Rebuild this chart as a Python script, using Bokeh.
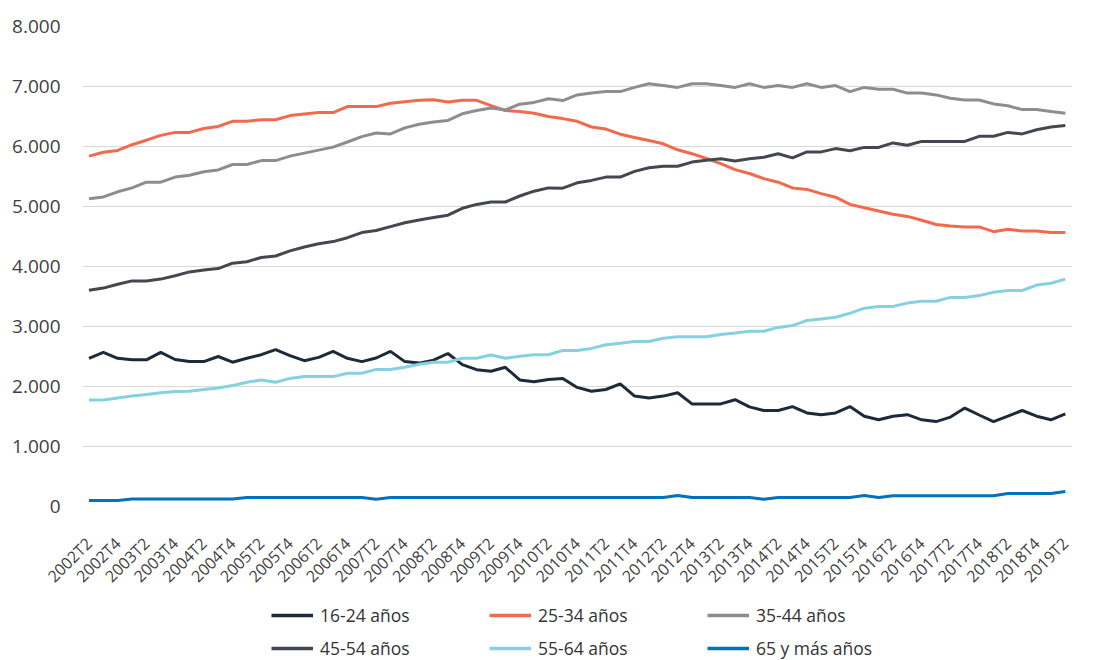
import math
from bokeh.plotting import figure
from bokeh.layouts import column
from bokeh.models import FixedTicker, Legend, LegendItem, Range1d
from bokeh.embed import file_html
from bokeh.resources import INLINE

# Quarters 2002T2 .. 2019T2
quarters = [f"{y}T{q}" for y in range(2002, 2020) for q in range(1, 5)][1:-2]

age_groups = ["16-24 años", "25-34 años", "35-44 años", "45-54 años", "55-64 años", "65 y más años"]

s16_24 = [2470, 2570, 2470, 2445, 2445, 2570, 2450, 2415, 2415, 2500,
          2405, 2470, 2530, 2615, 2515, 2430, 2485, 2585, 2470, 2415,
          2475, 2585, 2415, 2390, 2440, 2550, 2365, 2280, 2255, 2320,
          2110, 2080, 2115, 2135, 1985, 1920, 1950, 2045, 1840, 1810,
          1840, 1895, 1710, 1710, 1710, 1780, 1660, 1600, 1600, 1665,
          1560, 1530, 1560, 1665, 1505, 1445, 1505, 1530, 1445, 1415,
          1490, 1640, 1525, 1415, 1505, 1600, 1505, 1445, 1545]

s25_34 = [5840, 5905, 5935, 6030, 6105, 6185, 6235, 6235, 6300, 6335,
          6420, 6420, 6445, 6445, 6515, 6540, 6565, 6565, 6665, 6665,
          6665, 6720, 6745, 6770, 6780, 6740, 6770, 6770, 6680, 6600,
          6585, 6555, 6500, 6465, 6420, 6325, 6290, 6205, 6150, 6100,
          6045, 5945, 5880, 5800, 5715, 5615, 5550, 5465, 5405, 5310,
          5285, 5215, 5155, 5035, 4980, 4925, 4870, 4835, 4770, 4700,
          4675, 4660, 4660, 4580, 4620, 4590, 4590, 4565, 4565]

s35_44 = [5130, 5160, 5245, 5310, 5405, 5405, 5490, 5520, 5580, 5610,
          5700, 5700, 5765, 5765, 5840, 5890, 5940, 5990, 6075, 6165,
          6225, 6210, 6310, 6370, 6410, 6435, 6545, 6600, 6640, 6610,
          6705, 6735, 6795, 6765, 6860, 6890, 6915, 6915, 6985, 7045,
          7015, 6985, 7045, 7045, 7015, 6985, 7045, 6985, 7015, 6985,
          7045, 6985, 7015, 6915, 6985, 6955, 6955, 6890, 6890, 6860,
          6805, 6775, 6775, 6710, 6680, 6615, 6615, 6585, 6555]

s45_54 = [3605, 3640, 3705, 3760, 3760, 3790, 3845, 3910, 3940, 3965,
          4055, 4080, 4150, 4175, 4260, 4325, 4380, 4415, 4480, 4565,
          4600, 4665, 4730, 4775, 4815, 4855, 4970, 5035, 5075, 5075,
          5175, 5255, 5310, 5305, 5395, 5435, 5490, 5490, 5585, 5645,
          5670, 5670, 5740, 5770, 5795, 5760, 5795, 5820, 5880, 5810,
          5910, 5910, 5965, 5930, 5985, 5985, 6060, 6020, 6085, 6085,
          6085, 6085, 6170, 6170, 6235, 6210, 6280, 6325, 6350]

s55_64 = [1775, 1775, 1810, 1840, 1865, 1895, 1915, 1920, 1950, 1975,
          2015, 2070, 2110, 2070, 2135, 2165, 2165, 2165, 2220, 2220,
          2285, 2285, 2320, 2370, 2405, 2405, 2470, 2470, 2525, 2470,
          2505, 2530, 2530, 2600, 2600, 2635, 2695, 2720, 2750, 2750,
          2805, 2830, 2830, 2830, 2865, 2890, 2920, 2920, 2985, 3015,
          3100, 3125, 3155, 3220, 3305, 3335, 3335, 3390, 3420, 3420,
          3485, 3485, 3515, 3570, 3600, 3600, 3690, 3720, 3790]

s65 = [100, 100, 100, 125, 125, 125, 125, 125, 125, 125,
       125, 150, 150, 150, 150, 150, 150, 150, 150, 150,
       120, 150, 150, 150, 150, 150, 150, 150, 150, 150,
       150, 150, 150, 150, 150, 150, 150, 150, 150, 150,
       150, 185, 150, 150, 150, 150, 150, 120, 150, 150,
       150, 150, 150, 150, 185, 150, 180, 180, 180, 180,
       180, 180, 180, 180, 215, 215, 215, 215, 250]

y_ticks = [0, 1000, 2000, 3000, 4000, 5000, 6000, 7000, 8000]
y_tick_labels = ["0", "1.000", "2.000", "3.000", "4.000", "5.000", "6.000", "7.000", "8.000"]

series = [s16_24, s25_34, s35_44, s45_54, s55_64, s65]
colors = ["#1c2a39", "#f26a4b", "#8b8d90", "#43474f", "#86d1e1", "#0072bc"]

FONT = "Open Sans"
TXT = "#3f3f3f"

x = list(range(len(quarters)))

# ---------------- main chart ----------------
p = figure(width=1090, height=598,
           x_range=Range1d(-0.45, 68.5), y_range=Range1d(0, 8000),
           output_backend="svg", toolbar_location=None,
           min_border_left=82, min_border_right=18,
           min_border_top=26, min_border_bottom=92)
p.outline_line_color = None
p.background_fill_color = "white"

for vals, col in zip(series, colors):
    p.line(x, vals, line_width=3, line_color=col)

p.xgrid.visible = False
p.ygrid.grid_line_color = "#d9d9d9"
p.ygrid.grid_line_width = 1

p.yaxis.ticker = FixedTicker(ticks=y_ticks)
p.yaxis.major_label_overrides = {t: l for t, l in zip(y_ticks, y_tick_labels)}
p.yaxis.axis_line_color = None
p.yaxis.major_tick_line_color = None
p.yaxis.minor_tick_line_color = None
p.yaxis.major_label_standoff = 16
p.yaxis.major_label_text_font = FONT
p.yaxis.major_label_text_font_size = "19px"
p.yaxis.major_label_text_color = TXT

xt = list(range(0, len(quarters), 2))
p.xaxis.ticker = FixedTicker(ticks=xt)
p.xaxis.major_label_overrides = {i: quarters[i] for i in xt}
p.xaxis.major_label_orientation = math.pi / 4
p.xaxis.axis_line_color = None
p.xaxis.major_tick_line_color = None
p.xaxis.minor_tick_line_color = None
p.xaxis.major_label_standoff = 28
p.xaxis.major_label_text_font = FONT
p.xaxis.major_label_text_font_size = "16px"
p.xaxis.major_label_text_color = TXT

# ---------------- legend strip ----------------
lg = figure(width=1090, height=62,
            x_range=Range1d(1000, 1001), y_range=Range1d(0, 1),
            output_backend="svg", toolbar_location=None,
            x_axis_location=None, y_axis_location=None,
            min_border_left=0, min_border_right=0,
            min_border_top=0, min_border_bottom=0)
lg.outline_line_color = None
lg.grid.visible = False

lrs = [lg.line(x, vals, line_width=3.5, line_color=col) for vals, col in zip(series, colors)]
items = [LegendItem(label=lab, renderers=[r]) for lab, r in zip(age_groups, lrs)]
legend = Legend(items=items, orientation="horizontal", ncols=3, location=(189, 0))
legend.border_line_color = None
legend.background_fill_alpha = 0
legend.padding = 0
legend.margin = 0
legend.spacing = 9
legend.glyph_width = 42
legend.glyph_height = 20
legend.label_height = 20
legend.label_width = 160
legend.label_standoff = 7
legend.label_text_font = FONT
legend.label_text_font_size = "17.5px"
legend.label_text_color = "#333333"
lg.add_layout(legend, "center")

layout = column(p, lg, spacing=0)
open("out.html", "w").write(file_html(layout, INLINE))
